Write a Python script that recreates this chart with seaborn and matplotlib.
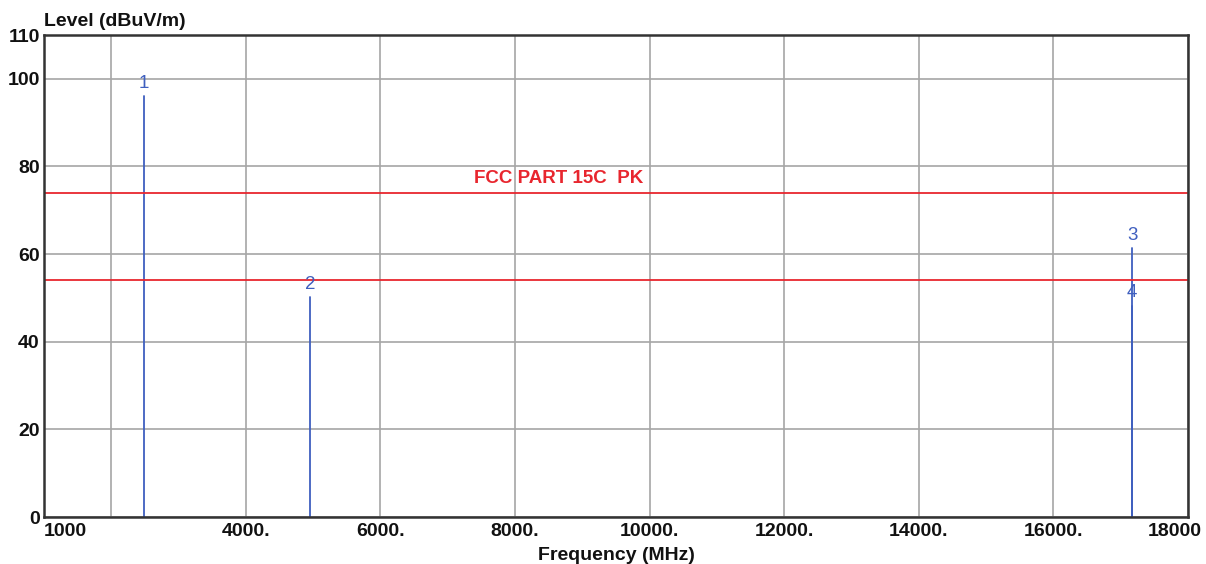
import numpy as np
import pandas as pd
import matplotlib
matplotlib.use("Agg")
import matplotlib.pyplot as plt
import matplotlib.transforms as mtransforms
import seaborn as sns

# marker data
marker_ids = ["1", "2", "3", "4"]
marker_freq = [2480, 4960, 17170, 17170]      # MHz
marker_level = [96.1, 50.2, 61.3, 48.2]      # dBuV/m

# limit lines
limit_levels = [74, 54]
limit_span = [1000, 18000]
limit_text = "FCC PART 15C  PK"

x_ticks = [1000, 2000, 4000, 6000, 8000, 10000, 12000, 14000, 16000, 18000]
x_ticklabels = ["1000", "", "4000.", "6000.", "8000.", "10000.", "12000.", "14000.", "16000.", "18000"]
y_ticks = [0, 20, 40, 60, 80, 100, 110]

sns.set_style("white")
plt.rcParams["font.family"] = ["Liberation Sans", "DejaVu Sans"]

blue = "#3f5fbf"
red = "#e8262e"
txt = "#111111"

fig = plt.figure(figsize=(12.06, 5.64), dpi=100)
ax = fig.add_axes([44 / 1206, 47 / 564, 1144 / 1206, 482 / 564])

# stems: each marker is a line from 0 up to its level
rows = []
for mid, f, lv in zip(marker_ids, marker_freq, marker_level):
    rows.append([mid, f, 0.0])
    rows.append([mid, f, lv])
stems = pd.DataFrame(rows, columns=["marker", "freq", "level"])
sns.lineplot(data=stems, x="freq", y="level", units="marker", estimator=None,
             color=blue, lw=1.3, ax=ax, legend=False)

# limit lines
lim_rows = []
for i, lv in enumerate(limit_levels):
    for f in limit_span:
        lim_rows.append([i, f, lv])
lim = pd.DataFrame(lim_rows, columns=["line", "freq", "level"])
sns.lineplot(data=lim, x="freq", y="level", units="line", estimator=None,
             color=red, lw=1.3, ax=ax, legend=False)

ax.text(9900, limit_levels[0] + 1.2, limit_text, color=red, fontsize=13.5,
        fontweight="bold", ha="right", va="bottom")

for mid, f, lv in zip(marker_ids, marker_freq, marker_level):
    ax.text(f, lv + 1.0, mid, color=blue, fontsize=13.5, ha="center", va="bottom")

ax.set_xlim(1000, 18000)
ax.set_ylim(0, 110)
ax.set_xticks(x_ticks)
ax.set_xticklabels(x_ticklabels, fontsize=14, fontweight="bold", color=txt)
ax.set_yticks(y_ticks)
ax.set_yticklabels([str(v) for v in y_ticks], fontsize=14, fontweight="bold", color=txt)
ax.tick_params(length=0)
ax.tick_params(axis="x", pad=4)
ax.tick_params(axis="y", pad=3)

labels = ax.get_xticklabels()
labels[0].set_ha("left")
labels[-1].set_transform(labels[-1].get_transform() +
                         mtransforms.ScaledTranslation(-0.13, 0, fig.dpi_scale_trans))

ax.grid(True, color="#a6a6a6", lw=1.2)
for s in ax.spines.values():
    s.set_color("#333333")
    s.set_linewidth(1.8)

ax.set_xlabel("Frequency (MHz)", fontsize=14, fontweight="bold", color=txt, labelpad=5)
ax.set_ylabel("")
fig.text(44 / 1206, 1 - 21 / 564, "Level (dBuV/m)", fontsize=14, fontweight="bold",
         color=txt, ha="left", va="center")

fig.savefig("out.png", dpi=100)
